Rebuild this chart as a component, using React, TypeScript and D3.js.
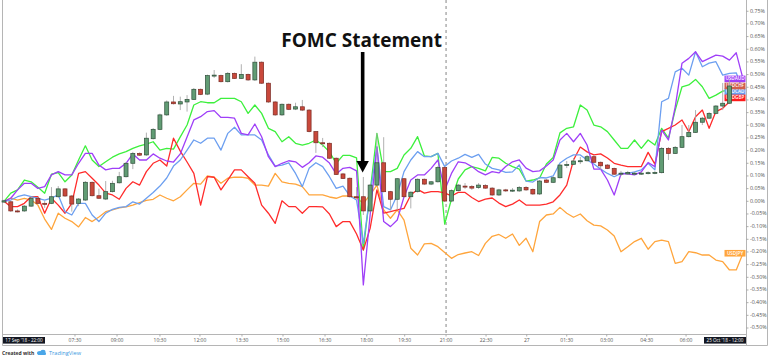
import React from "react";
import * as d3 from "d3";

// ---------- data (percent change from start) ----------
const yTickValues = [0.75, 0.7, 0.65, 0.6, 0.55, 0.5, 0.45, 0.4, 0.35, 0.3, 0.25, 0.2, 0.15, 0.1, 0.05, 0, -0.05, -0.1, -0.15, -0.2, -0.25, -0.3, -0.35, -0.4, -0.45, -0.5];

const xTickLabels = ["07:30", "09:00", "10:30", "12:00", "13:30", "15:00", "16:30", "18:00", "19:30", "21:00", "22:30", "27", "01:30", "03:00", "04:30", "06:00"];
const xTickIndex = [10.47, 16.67, 23.0, 28.9, 35.1, 41.15, 47.35, 53.5, 59.1, 65.2, 71.1, 77.1, 83.0, 88.9, 94.8, 100.6];

const startLabel = "17 Sep '18 - 22:00";
const endLabel = "25 Oct '18 - 12:00";
const sessionBreakIndex = 65.2;
const fomcIndex = 52.9;
const fomcTitle = "FOMC Statement";

// USDCHF candles: [open, high, low, close]
const usdchfCandles: [number, number, number, number][] = [
  [-0.003, 0.006, -0.006, 0.002], [-0.002, 0.002, -0.042, -0.038], [-0.038, -0.032, -0.044, -0.039], [-0.038, -0.015, -0.042, -0.019], [-0.019, 0.019, -0.022, 0.012],
  [0.012, 0.017, -0.011, -0.008], [-0.008, 0.001, -0.026, -0.012], [-0.008, 0.056, -0.011, 0.018], [0.018, 0.06, 0.015, 0.049], [0.049, 0.052, 0.017, 0.021],
  [0.021, 0.025, -0.041, -0.011], [-0.008, 0.013, -0.019, 0.009], [0.005, 0.08, 0.001, 0.075], [0.075, 0.078, 0.019, 0.022], [0.022, 0.05, 0.009, 0.012],
  [0.009, 0.08, 0.005, 0.038], [0.038, 0.081, 0.035, 0.071], [0.073, 0.116, 0.07, 0.097], [0.097, 0.155, 0.094, 0.15], [0.15, 0.195, 0.127, 0.189],
  [0.189, 0.193, 0.179, 0.182], [0.183, 0.271, 0.179, 0.249], [0.247, 0.289, 0.244, 0.284], [0.284, 0.346, 0.281, 0.341], [0.341, 0.398, 0.337, 0.392],
  [0.392, 0.416, 0.382, 0.385], [0.384, 0.413, 0.36, 0.393], [0.392, 0.419, 0.354, 0.402], [0.402, 0.447, 0.4, 0.442], [0.442, 0.445, 0.419, 0.422],
  [0.423, 0.5, 0.419, 0.496], [0.496, 0.518, 0.487, 0.498], [0.496, 0.5, 0.469, 0.472], [0.472, 0.51, 0.469, 0.505], [0.505, 0.508, 0.483, 0.485],
  [0.485, 0.541, 0.483, 0.501], [0.501, 0.504, 0.475, 0.479], [0.479, 0.571, 0.475, 0.549], [0.549, 0.552, 0.463, 0.466], [0.466, 0.469, 0.388, 0.392],
  [0.392, 0.396, 0.337, 0.341], [0.341, 0.386, 0.337, 0.383], [0.383, 0.386, 0.36, 0.363], [0.364, 0.389, 0.36, 0.373], [0.373, 0.4, 0.356, 0.36],
  [0.36, 0.364, 0.272, 0.275], [0.275, 0.277, 0.191, 0.231], [0.231, 0.25, 0.214, 0.23], [0.229, 0.232, 0.167, 0.17], [0.17, 0.173, 0.104, 0.106],
  [0.108, 0.112, 0.088, 0.09], [0.091, 0.094, 0.015, 0.018], [0.018, 0.056, 0.013, 0.017], [0.018, 0.096, -0.054, -0.038], [-0.038, 0.068, -0.042, 0.064],
  [0.064, 0.268, 0.06, 0.152], [0.152, 0.253, 0.035, 0.038], [0.038, 0.041, -0.034, 0.008], [0.008, 0.092, -0.034, 0.089], [0.089, 0.092, 0.015, 0.018],
  [0.018, 0.039, -0.028, 0.036], [0.038, 0.09, 0.035, 0.087], [0.087, 0.09, 0.064, 0.068], [0.068, 0.08, 0.064, 0.077], [0.077, 0.139, 0.074, 0.133],
  [0.133, 0.137, -0.003, 0.001], [0.001, 0.047, -0.003, 0.042], [0.042, 0.068, 0.039, 0.064], [0.06, 0.072, 0.049, 0.056], [0.058, 0.064, 0.045, 0.052],
  [0.054, 0.072, 0.049, 0.064], [0.062, 0.068, 0.049, 0.052], [0.052, 0.056, 0.021, 0.025], [0.025, 0.049, 0.021, 0.045], [0.045, 0.049, 0.037, 0.041],
  [0.043, 0.052, 0.037, 0.044], [0.041, 0.06, 0.037, 0.054], [0.055, 0.06, 0.041, 0.045], [0.047, 0.051, 0.025, 0.029], [0.029, 0.084, 0.025, 0.08],
  [0.084, 0.088, 0.072, 0.075], [0.075, 0.098, 0.072, 0.093], [0.093, 0.147, 0.09, 0.143], [0.143, 0.159, 0.131, 0.145], [0.146, 0.171, 0.143, 0.159],
  [0.159, 0.175, 0.147, 0.16], [0.16, 0.183, 0.157, 0.176], [0.176, 0.181, 0.151, 0.154], [0.154, 0.157, 0.124, 0.14], [0.143, 0.147, 0.127, 0.13],
  [0.13, 0.133, 0.104, 0.107], [0.11, 0.12, 0.1, 0.111], [0.108, 0.12, 0.104, 0.114], [0.11, 0.116, 0.104, 0.111], [0.11, 0.116, 0.104, 0.111],
  [0.112, 0.118, 0.106, 0.113], [0.113, 0.119, 0.107, 0.114], [0.113, 0.214, 0.11, 0.209], [0.209, 0.214, 0.163, 0.189], [0.189, 0.218, 0.187, 0.213],
  [0.213, 0.301, 0.21, 0.255], [0.255, 0.301, 0.252, 0.272], [0.272, 0.36, 0.27, 0.312], [0.312, 0.333, 0.301, 0.328], [0.328, 0.352, 0.325, 0.347],
  [0.347, 0.38, 0.344, 0.376], [0.376, 0.467, 0.36, 0.387], [0.387, 0.479, 0.384, 0.455],
];

const greenLine = [
  0, 0.032, 0.045, 0.084, 0.077, 0.055, 0.032, 0.107, 0.113, 0.077,
  0.104, 0.163, 0.219, 0.163, 0.137, 0.156, 0.174, 0.187, 0.196, 0.209,
  0.219, 0.226, 0.235, 0.202, 0.209, 0.206, 0.254, 0.301, 0.38, 0.393,
  0.389, 0.389, 0.406, 0.406, 0.406, 0.393, 0.347, 0.38, 0.347, 0.288,
  0.275, 0.235, 0.255, 0.229, 0.222, 0.229, 0.242, 0.222, 0.195, 0.15,
  0.181, 0.181, 0.171, -0.192, 0.037, 0.268, 0.117, 0.117, 0.13, 0.183,
  0.209, 0.255, 0.179, 0.176, 0.189, -0.09, 0.009, 0.088, 0.124, 0.137,
  0.13, 0.12, 0.173, 0.17, 0.15, 0.137, 0.127, 0.08, 0.084, 0.092,
  0.147, 0.173, 0.27, 0.288, 0.294, 0.38, 0.36, 0.301, 0.294, 0.275,
  0.242, 0.209, 0.209, 0.242, 0.209, 0.242, 0.222, 0.288, 0.249, 0.36,
  0.452, 0.459, 0.481, 0.452, 0.406, 0.419, 0.435, 0.439, 0.44, 0.45,
];

const usdaudLine = [
  0, 0.012, 0.045, 0.071, 0.071, 0.051, 0.058, 0.104, 0.117, 0.104,
  0.104, 0.15, 0.189, 0.189, 0.143, 0.124, 0.13, 0.13, 0.15, 0.187,
  0.163, 0.163, 0.187, 0.17, 0.159, 0.155, 0.187, 0.254, 0.321, 0.334,
  0.354, 0.358, 0.331, 0.331, 0.328, 0.268, 0.262, 0.305, 0.255, 0.176,
  0.137, 0.15, 0.16, 0.156, 0.134, 0.152, 0.179, 0.174, 0.151, 0.108,
  0.13, 0.134, 0.12, -0.33, -0.054, 0.215, -0.08, -0.1, -0.074, 0.018,
  0.084, 0.104, 0.104, 0.13, 0.163, 0.045, 0.11, 0.156, 0.152, 0.137,
  0.117, 0.104, 0.117, 0.112, 0.137, 0.156, 0.163, 0.131, 0.117, 0.12,
  0.139, 0.163, 0.242, 0.268, 0.235, 0.268, 0.222, 0.127, 0.127, 0.084,
  0.025, 0.108, 0.108, 0.104, 0.116, 0.153, 0.137, 0.281, 0.242, 0.373,
  0.545, 0.564, 0.59, 0.551, 0.564, 0.577, 0.573, 0.557, 0.586, 0.483,
];

const usdcadLine = [
  0, 0.005, 0.018, 0.025, 0.018, 0.012, 0.005, 0.013, 0.025, -0.041,
  -0.054, -0.008, -0.008, -0.054, -0.08, -0.047, -0.032, -0.024, -0.021, -0.002,
  -0.011, 0.012, 0.035, 0.06, 0.092, 0.139, 0.163, 0.202, 0.242, 0.229,
  0.249, 0.249, 0.202, 0.268, 0.292, 0.262, 0.262, 0.262, 0.242, 0.183,
  0.139, 0.143, 0.152, 0.11, 0.058, 0.13, 0.152, 0.137, 0.097, 0.051,
  0.06, 0.021, 0.005, -0.166, 0.025, 0.215, -0.021, -0.034, 0.025, 0.117,
  0.163, 0.196, 0.176, 0.176, 0.189, 0.137, 0.159, 0.17, 0.185, 0.173,
  0.185, 0.147, 0.13, 0.124, 0.114, 0.116, 0.143, 0.08, 0.076, 0.094,
  0.092, 0.1, 0.151, 0.17, 0.183, 0.183, 0.163, 0.147, 0.127, 0.11,
  0.097, 0.11, 0.11, 0.116, 0.124, 0.15, 0.124, 0.393, 0.406, 0.511,
  0.525, 0.498, 0.59, 0.531, 0.545, 0.551, 0.498, 0.505, 0.507, 0.433,
];

const usdgbpLine = [
  0, -0.021, -0.021, -0.008, 0.018, 0.018, -0.047, 0.012, -0.015, -0.047,
  -0.008, 0.11, 0.117, 0.091, 0.064, 0.032, 0.025, 0.008, 0.051, 0.077,
  0.064, 0.117, 0.15, 0.163, 0.139, 0.249, 0.198, 0.155, 0.11, -0.015,
  0.097, 0.095, 0.045, 0.084, 0.124, 0.124, 0.097, 0.071, -0.015, -0.047,
  -0.087, 0.002, -0.021, -0.021, -0.047, -0.021, -0.021, -0.022, -0.05, -0.1,
  -0.08, -0.08, -0.129, -0.192, -0.107, 0.045, -0.047, -0.041, -0.034, -0.028,
  0.025, 0.047, 0.032, 0.038, 0.038, 0.033, 0.021, 0.035, 0.035, 0.015,
  -0.001, 0.009, 0.013, -0.007, -0.021, -0.011, 0.005, -0.015, -0.015, -0.015,
  -0.011, -0.002, 0.025, 0.064, 0.163, 0.214, 0.195, 0.183, 0.187, 0.171,
  0.15, 0.143, 0.137, 0.137, 0.137, 0.193, 0.147, 0.275, 0.288, 0.301,
  0.321, 0.275, 0.334, 0.36, 0.288, 0.354, 0.367, 0.393, 0.413, 0.408,
];

const usdjpyLine = [
  0, 0.013, 0.005, 0.012, 0.005, -0.015, -0.07, -0.111, -0.047, -0.067,
  -0.08, -0.101, -0.064, -0.08, -0.062, -0.041, -0.034, -0.026, -0.022, -0.015,
  -0.005, 0.004, 0.008, 0.025, 0.012, 0.002, 0.018, 0.045, 0.071, 0.068,
  0.1, 0.095, 0.071, 0.091, 0.095, 0.095, 0.091, 0.064, 0.064, 0.06,
  0.11, 0.077, 0.071, 0.068, 0.058, 0.025, 0.025, 0.025, 0.017, 0.012,
  0.021, 0.021, 0.013, -0.008, 0.025, 0.064, -0.034, -0.067, -0.034, -0.074,
  -0.185, -0.212, -0.168, -0.166, -0.179, -0.202, -0.225, -0.21, -0.204, -0.199,
  -0.214, -0.166, -0.138, -0.131, -0.146, -0.129, -0.174, -0.146, -0.199, -0.08,
  -0.054, -0.05, -0.024, -0.047, -0.063, -0.05, -0.077, -0.094, -0.097, -0.113,
  -0.137, -0.199, -0.179, -0.159, -0.146, -0.189, -0.159, -0.153, -0.159, -0.245,
  -0.238, -0.199, -0.203, -0.212, -0.212, -0.232, -0.238, -0.271, -0.271, -0.205,
];

const UP = "#619c74";
const UP_BORDER = "#2f4f3a";
const DOWN = "#c9483b";
const DOWN_BORDER = "#7a2a22";
const WICK = "#a8a8a8";
const FONT = "'Open Sans', 'Noto Sans', sans-serif";

export default function App() {
  const x = d3.scaleLinear().domain([0, 107]).range([4, 729.46]);
  const y = d3.scaleLinear().domain([-0.5, 0.75]).range([328, 11.25]);
  const line = d3.line<number>().x((_, i) => x(i)).y((d) => y(d));

  const lines = [
    { name: "USDJPY", values: usdjpyLine, color: "#ffa53c" },
    { name: "USDEUR", values: greenLine, color: "#3df03d" },
    { name: "USDGBP", values: usdgbpLine, color: "#ff2b2b" },
    { name: "USDCAD", values: usdcadLine, color: "#6c9ff0" },
    { name: "USDAUD", values: usdaudLine, color: "#9f3ff8" },
  ];

  const lastClose = usdchfCandles[usdchfCandles.length - 1][3];
  const labels = [
    { name: "USDCAD", v: usdcadLine[usdcadLine.length - 1], bg: "#6c9ff0" },
    { name: "USDJPY", v: usdjpyLine[usdjpyLine.length - 1], bg: "#ffa53c" },
    { name: "USDAUD", v: usdaudLine[usdaudLine.length - 1], bg: "#9f3ff8" },
    { name: "USDCHF", v: lastClose, bg: "#d2604d" },
    { name: "USDGBP", v: usdgbpLine[usdgbpLine.length - 1], bg: "#ff1a1a" },
  ];

  const fmt = (v: number) => (Math.abs(v) < 1e-9 ? "0.00%" : v.toFixed(2) + "%");
  const axisX = 746.5;
  const axisY = 334.5;
  const frameBottom = 345.5;
  const fx = x(fomcIndex);

  return (
    <svg
      width={768}
      height={361}
      style={{ position: "absolute", left: 0, top: 0, background: "#fff", fontFamily: FONT }}
    >
      <rect x={0} y={0} width={768} height={361} fill="#fff" />
      {/* frame */}
      <line x1={2.5} y1={0} x2={2.5} y2={frameBottom} stroke="#b5b5b5" strokeWidth={1} />
      <line x1={767.5} y1={0} x2={767.5} y2={frameBottom} stroke="#b5b5b5" strokeWidth={1} />
      <line x1={2.5} y1={frameBottom} x2={767.5} y2={frameBottom} stroke="#b5b5b5" strokeWidth={1} />
      <line x1={axisX} y1={0} x2={axisX} y2={frameBottom} stroke="#b5b5b5" strokeWidth={1} />
      <line x1={2.5} y1={axisY} x2={axisX} y2={axisY} stroke="#b5b5b5" strokeWidth={1} />

      {/* session break */}
      <line
        x1={x(sessionBreakIndex)}
        y1={0}
        x2={x(sessionBreakIndex)}
        y2={axisY}
        stroke="#666"
        strokeWidth={0.8}
        strokeDasharray="3,3"
      />

      {/* compare lines */}
      {lines.map((s) => (
        <path key={s.name} d={line(s.values) || ""} fill="none" stroke={s.color} strokeWidth={1.3} strokeLinejoin="round" />
      ))}

      {/* last value labels */}
      {labels.map((l) => (
        <g key={l.name} transform={`translate(724.5,${y(l.v) - 3.3})`}>
          <rect width={21} height={6.6} fill={l.bg} />
          <text x={10.5} y={3.5} fill="#fff" fontSize={4.6} fontWeight={600} textAnchor="middle" dominantBaseline="middle">
            {l.name}
          </text>
        </g>
      ))}

      {/* candles */}
      {usdchfCandles.map(([o, h, l, c], i) => {
        const up = c >= o;
        const cx = x(i);
        const top = y(Math.max(o, c));
        const bot = y(Math.min(o, c));
        const bh = Math.max(1, bot - top);
        return (
          <g key={i}>
            <line x1={cx} x2={cx} y1={y(h)} y2={y(l)} stroke={WICK} strokeWidth={0.9} />
            <rect
              x={cx - 2}
              y={top}
              width={4}
              height={bh}
              fill={up ? UP : DOWN}
              stroke={up ? UP_BORDER : DOWN_BORDER}
              strokeWidth={0.7}
            />
          </g>
        );
      })}

      {/* right axis */}
      {yTickValues.map((v) => (
        <g key={v}>
          <line x1={axisX} x2={axisX + 2} y1={y(v)} y2={y(v)} stroke="#9a9a9a" strokeWidth={0.8} />
          <text x={750} y={y(v)} fontSize={5.3} fill="#555" dominantBaseline="middle">
            {fmt(v)}
          </text>
        </g>
      ))}

      {/* bottom axis */}
      {xTickIndex.map((t, k) => (
        <g key={k}>
          <line x1={x(t)} x2={x(t)} y1={axisY} y2={axisY + 2} stroke="#9a9a9a" strokeWidth={0.8} />
          <text x={x(t)} y={340.6} fontSize={5} fill="#555" textAnchor="middle" dominantBaseline="middle">
            {xTickLabels[k]}
          </text>
        </g>
      ))}
      <g transform="translate(3,337)">
        <rect width={42} height={6.6} fill="#131722" />
        <text x={21} y={3.5} fontSize={4.6} fill="#fff" textAnchor="middle" dominantBaseline="middle">
          {startLabel}
        </text>
      </g>
      <g transform="translate(704,337)">
        <rect width={42} height={6.6} fill="#131722" />
        <text x={21} y={3.5} fontSize={4.6} fill="#fff" textAnchor="middle" dominantBaseline="middle">
          {endLabel}
        </text>
      </g>

      {/* annotation */}
      <text x={fx - 1} y={47} fontSize={19} fontWeight={700} fill="#111" textAnchor="middle" fontFamily="'Open Sans', sans-serif">
        {fomcTitle}
      </text>
      <rect x={fx - 1.8} y={52} width={3.6} height={111} fill="#000" />
      <polygon points={`${fx - 6.2},161 ${fx + 6.2},161 ${fx},172.5`} fill="#000" />

      {/* footer */}
      <text x={2} y={354.5} fontSize={5} fontWeight={700} fill="#333">
        Created with
      </text>
      <g transform="translate(37,350)" fill="#4aa6e8">
        <ellipse cx={3} cy={3} rx={3} ry={2} />
        <ellipse cx={6} cy={2} rx={2.6} ry={2.2} />
        <rect x={1} y={2.5} width={8} height={2.5} rx={1} />
      </g>
      <text x={49} y={354.5} fontSize={5.6} fill="#3a97e0">
        TradingView
      </text>
    </svg>
  );
}
